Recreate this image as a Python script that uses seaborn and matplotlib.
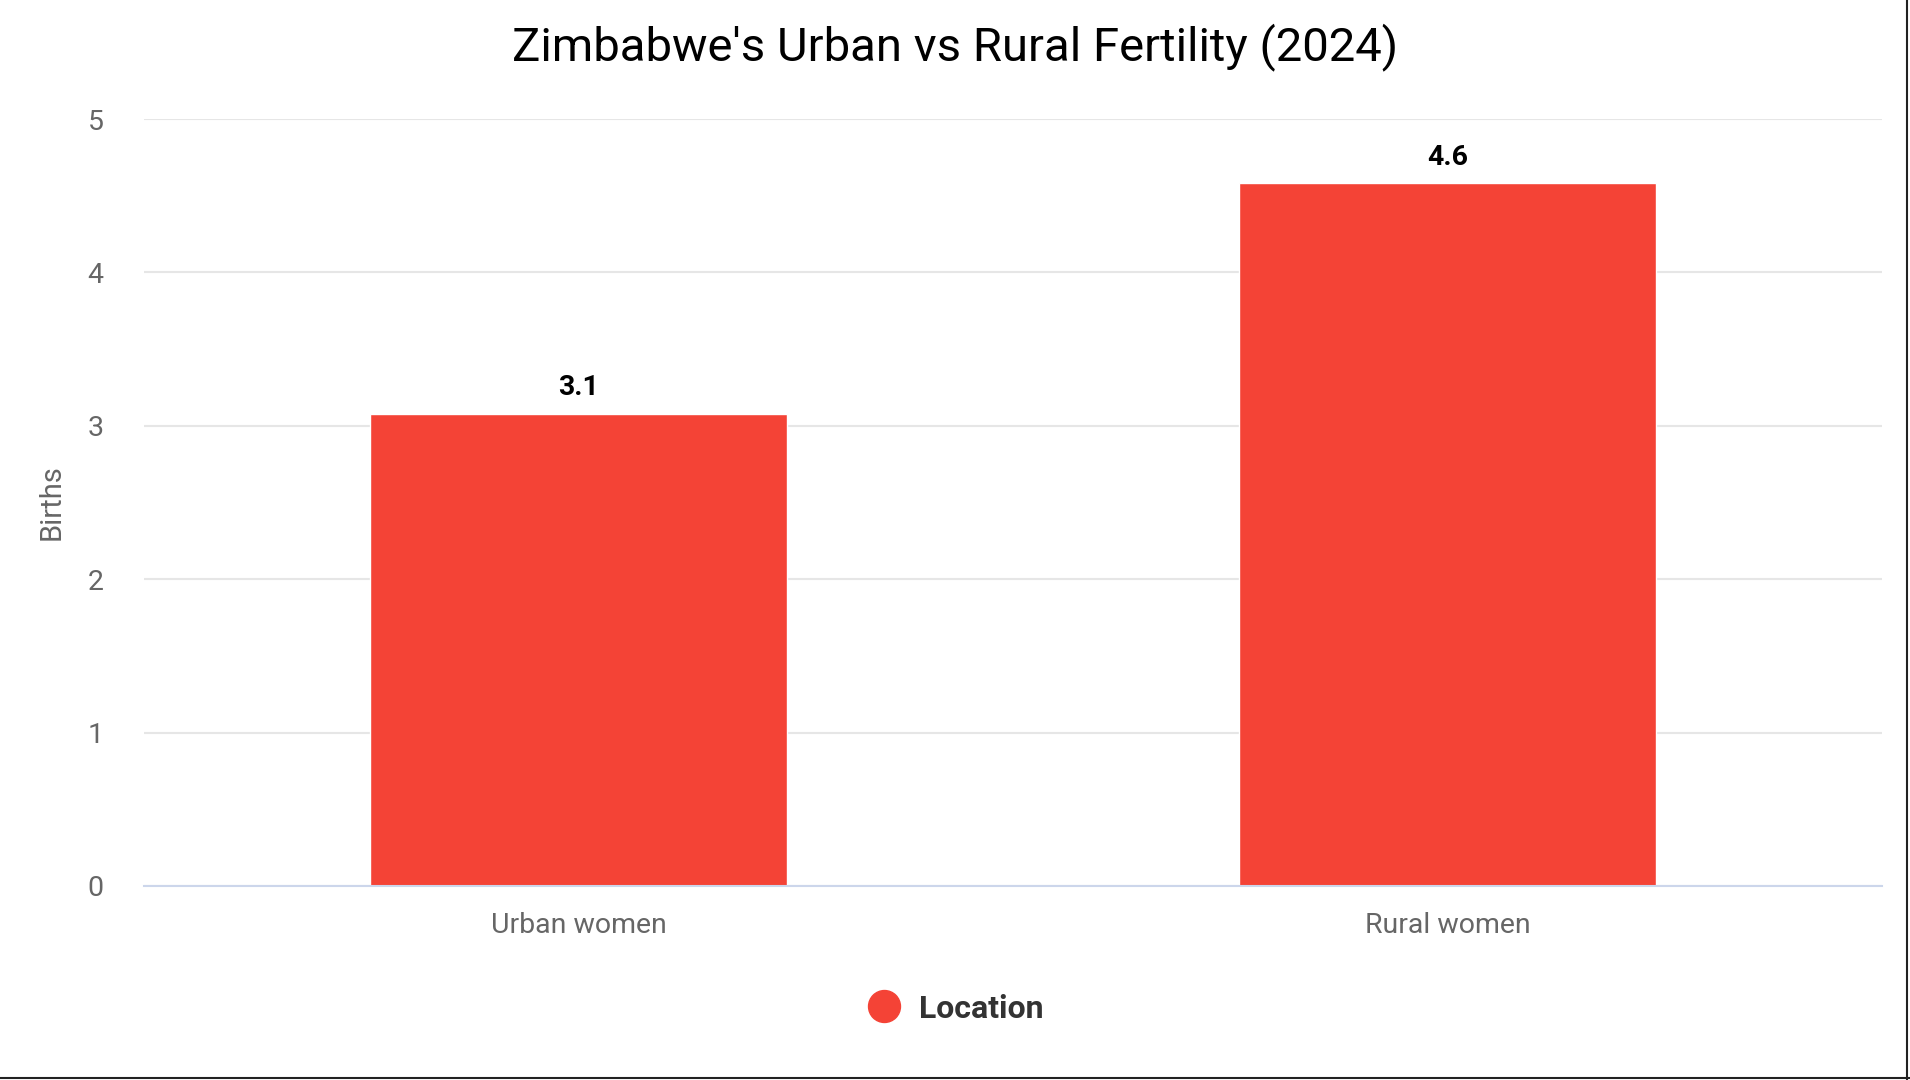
import pandas as pd
import seaborn as sns
import matplotlib.pyplot as plt
from matplotlib.lines import Line2D

# Daten
categories = ["Urban women", "Rural women"]
births = [3.08, 4.58]
bar_labels = ["3.1", "4.6"]
series_name = "Location"
yticks = [0, 1, 2, 3, 4, 5]
title = "Zimbabwe's Urban vs Rural Fertility (2024)"

df = pd.DataFrame({"location": categories, "births": births, "series": series_name})

sns.set_style("white")
plt.rcParams['font.family'] = ['Roboto', 'DejaVu Sans']

red = "#f44336"

fig = plt.figure(figsize=(19.1, 10.8), dpi=100)
ax = fig.add_axes([144/1910, 1-886/1080, 1738/1910, 767/1080])

sns.barplot(data=df, x="location", y="births", hue="series", palette=[red],
            width=0.48, saturation=1, legend=False, ax=ax)

ax.set_xlim(-0.5, 1.5)
ax.set_ylim(0, 5)
ax.set_yticks(yticks)
ax.set_axisbelow(True)
ax.yaxis.grid(True, color="#e6e6e6", linewidth=1.5)

for s in ["left", "top", "right"]:
    ax.spines[s].set_visible(False)
ax.spines["bottom"].set_color("#ccd6eb")
ax.spines["bottom"].set_linewidth(1.5)

ax.tick_params(axis="y", length=0, pad=29, labelsize=20.5, labelcolor="#666666")
ax.tick_params(axis="x", length=0, pad=19, labelsize=20.5, labelcolor="#666666")

ax.set_xlabel("")
ax.set_ylabel("Births", fontsize=21, color="#666666")
ax.yaxis.set_label_coords(-0.045, 0.5)

# Werte über den Balken
for i, (v, lab) in enumerate(zip(births, bar_labels)):
    ax.annotate(lab, (i, v), xytext=(0, 9), textcoords="offset points",
                ha="center", va="bottom", fontsize=20.5, fontweight="bold", color="black")

fig.text(0.5, 1-47/1080, title, ha="center", va="center", fontsize=34, color="black")

handle = Line2D([], [], marker="o", linestyle="none", markersize=23, color=red)
fig.legend([handle], [series_name], loc="center", bbox_to_anchor=(956/1910, 1-1008.5/1080),
           frameon=False, handlelength=1.0, handletextpad=0.6,
           prop={"weight": "bold", "size": 23}, labelcolor="#333333")

# Rahmen rechts und unten
fig.add_artist(Line2D([1-3/1910, 1-3/1910], [0, 1], transform=fig.transFigure, color="#222222", lw=1.5))
fig.add_artist(Line2D([0, 1], [2/1080, 2/1080], transform=fig.transFigure, color="#222222", lw=1.5))

plt.savefig("out.png", dpi=100)
